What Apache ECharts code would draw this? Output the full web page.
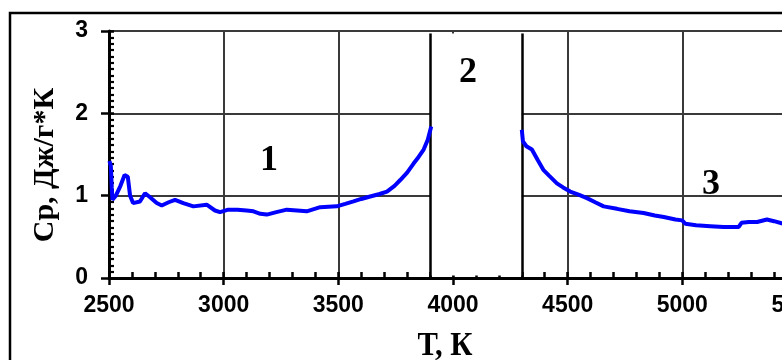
<!DOCTYPE html>
<html>
<head>
<meta charset="utf-8">
<script src="https://cdn.jsdelivr.net/npm/echarts@6/dist/echarts.min.js"></script>
<style>html,body{margin:0;padding:0;background:#fff}#c{width:782px;height:360px}</style>
</head>
<body>
<div id="c"></div>
<script>
// Region 1 (solid phase) temperatures, K and heat capacity, J/(g*K)
var temps1 = [2502, 2508, 2512, 2515, 2530, 2550, 2568, 2582, 2592, 2605, 2635, 2657, 2679, 2708, 2730, 2760, 2788, 2824, 2868, 2926, 2962, 2984, 3020, 3060, 3100, 3130, 3160, 3188, 3230, 3275, 3320, 3362, 3421, 3493, 3530, 3566, 3600, 3639, 3680, 3712, 3745, 3770, 3800, 3828, 3850, 3872, 3890, 3905];
var cp1 = [1.42, 1.36, 1.10, 0.95, 1.00, 1.12, 1.25, 1.23, 1.00, 0.91, 0.93, 1.03, 0.98, 0.91, 0.88, 0.92, 0.95, 0.91, 0.87, 0.89, 0.82, 0.80, 0.83, 0.83, 0.82, 0.81, 0.78, 0.77, 0.80, 0.83, 0.82, 0.81, 0.86, 0.87, 0.90, 0.93, 0.96, 0.99, 1.02, 1.05, 1.12, 1.19, 1.28, 1.39, 1.47, 1.56, 1.68, 1.84];
// Region 3 (liquid phase)
var temps3 = [4300, 4305, 4320, 4344, 4370, 4395, 4420, 4453, 4480, 4511, 4550, 4584, 4620, 4657, 4715, 4770, 4831, 4880, 4919, 4970, 4999, 5013, 5060, 5122, 5180, 5246, 5258, 5290, 5326, 5369, 5400, 5440];
var cp3 = [1.80, 1.66, 1.60, 1.56, 1.43, 1.31, 1.24, 1.15, 1.10, 1.05, 1.01, 0.97, 0.92, 0.87, 0.84, 0.81, 0.79, 0.76, 0.74, 0.71, 0.70, 0.66, 0.64, 0.63, 0.62, 0.62, 0.67, 0.68, 0.68, 0.71, 0.69, 0.66];
// Transition region boundaries (region 2)
var transition = [3900, 4300];
var xTicks = [2500, 3000, 3500, 4000, 4500, 5000, 5500];
var yTicks = [0, 1, 2, 3];
var regionLabels = ['1', '2', '3'];
var xName = 'Т, К';
var yName = 'Cp, Дж/г*К';

var data = [];
temps1.forEach(function (t, i) { data.push([t, cp1[i]]); });
data.push([ (transition[0] + transition[1]) / 2, null ]);
temps3.forEach(function (t, i) { data.push([t, cp3[i]]); });

var chart = echarts.init(document.getElementById('c'), null, {renderer: 'canvas'});
var serif = '"Liberation Serif", "Times New Roman", serif';
var sans = '"Liberation Sans", Arial, sans-serif';
var xMin = xTicks[0], xMax = xTicks[xTicks.length - 1];
var yMin = yTicks[0], yMax = yTicks[yTicks.length - 1];
chart.setOption({
  animation: false,
  backgroundColor: '#fff',
  grid: {left: 109, right: -15, top: 31, bottom: 82, containLabel: false, outerBoundsMode: 'none'},
  xAxis: [{
    type: 'value', min: xMin, max: xMax, interval: 500, position: 'bottom',
    axisLine: {show: true, onZero: false, lineStyle: {color: '#000', width: 3}},
    axisTick: {show: true, inside: true, length: 6, lineStyle: {color: '#000', width: 2.5}},
    minorTick: {show: true, splitNumber: 5, length: 6, lineStyle: {color: '#000', width: 2.5}},
    axisLabel: {color: '#000', fontFamily: sans, fontWeight: 'bold', fontSize: 23, margin: 16,
      formatter: function (v) { return String(v); }},
    splitLine: {show: true, lineStyle: {color: '#3a3a3a', width: 2}}
  }, {
    type: 'value', min: xMin, max: xMax, interval: 500, position: 'bottom', offset: 0,
    axisLine: {show: false, onZero: false},
    axisTick: {show: true, inside: false, length: 7, lineStyle: {color: '#000', width: 2.5}},
    axisLabel: {show: false}, splitLine: {show: false}
  }],
  yAxis: [{
    type: 'value', min: yMin, max: yMax, interval: 1, position: 'left',
    axisLine: {show: true, onZero: false, lineStyle: {color: '#000', width: 3}},
    axisTick: {show: true, inside: true, length: 5, lineStyle: {color: '#000', width: 2.5}},
    minorTick: {show: true, splitNumber: 13, length: 5, lineStyle: {color: '#000', width: 2.2}},
    axisLabel: {color: '#000', fontFamily: sans, fontWeight: 'bold', fontSize: 23, margin: 21},
    splitLine: {show: true, lineStyle: {color: '#3a3a3a', width: 2}}
  }, {
    type: 'value', min: yMin, max: yMax, interval: 1, position: 'left', offset: 0,
    axisLine: {show: false, onZero: false},
    axisTick: {show: true, inside: false, length: 8, lineStyle: {color: '#000', width: 2.5}},
    axisLabel: {show: false}, splitLine: {show: false}
  }],
  series: [{
    type: 'line', data: data, showSymbol: false, connectNulls: false,
    xAxisIndex: 0, yAxisIndex: 0,
    lineStyle: {color: '#0000ff', width: 4}, z: 5,
    markArea: {
      silent: true,
      itemStyle: {color: '#ffffff', opacity: 1},
      data: [[{xAxis: transition[0], yAxis: 0.03}, {xAxis: transition[1], yAxis: 2.97}]]
    },
    markLine: {
      silent: true, symbol: ['none', 'none'],
      lineStyle: {color: '#000', width: 2.5, type: 'solid'},
      label: {show: false},
      data: [
        [{coord: [transition[0], 0]}, {coord: [transition[0], 2.97]}],
        [{coord: [transition[1], 0]}, {coord: [transition[1], 2.97]}]
      ]
    }
  }],
  graphic: [
    {type: 'rect', shape: {x: 10, y: 13, width: 800, height: 400}, style: {fill: 'none', stroke: '#000', lineWidth: 2.5}, z: 100},
    {type: 'text', x: 45, y: 165, rotation: Math.PI / 2, style: {text: yName, font: 'bold 30px ' + serif, fill: '#000', textAlign: 'center', textVerticalAlign: 'middle'}, z: 100},
    {type: 'text', x: 445, y: 346, scaleX: 0.9, style: {text: xName, font: 'bold 34px ' + serif, fill: '#000', textAlign: 'center', textVerticalAlign: 'middle'}, z: 100},
    {type: 'text', x: 269, y: 161, style: {text: regionLabels[0], font: 'bold 36px ' + serif, fill: '#000', textAlign: 'center', textVerticalAlign: 'middle'}, z: 100},
    {type: 'text', x: 468, y: 73, style: {text: regionLabels[1], font: 'bold 36px ' + serif, fill: '#000', textAlign: 'center', textVerticalAlign: 'middle'}, z: 100},
    {type: 'text', x: 711, y: 185, style: {text: regionLabels[2], font: 'bold 36px ' + serif, fill: '#000', textAlign: 'center', textVerticalAlign: 'middle'}, z: 100}
  ]
});
</script>
</body>
</html>
